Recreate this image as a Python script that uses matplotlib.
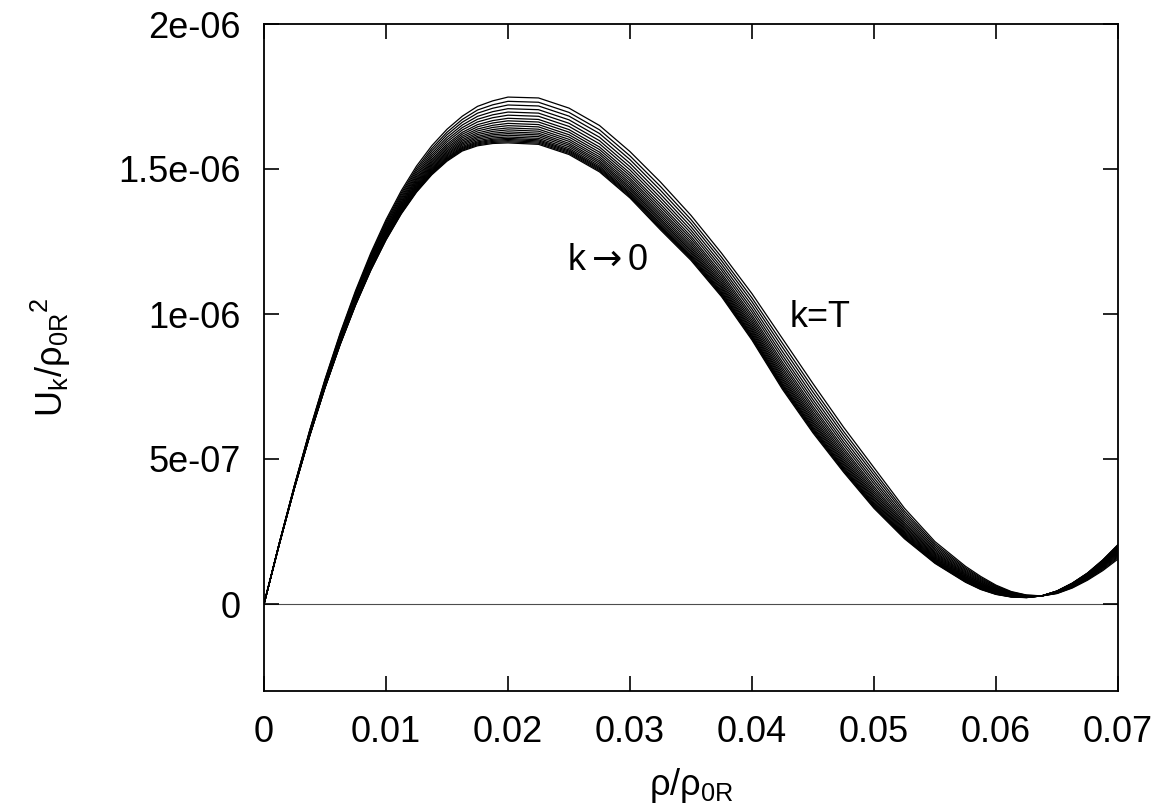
import numpy as np
import matplotlib
matplotlib.use("Agg")
import matplotlib.pyplot as plt

plt.rcParams["font.family"] = ["Liberation Sans", "DejaVu Sans"]
plt.rcParams["mathtext.fontset"] = "custom"
plt.rcParams["mathtext.rm"] = "Liberation Sans"
plt.rcParams["mathtext.it"] = "Liberation Sans"
plt.rcParams["mathtext.sf"] = "DejaVu Sans"

# rho/rho_0R grid, in units of 1e-3 (denser where the curves bend)
rho = np.array([0, 1.25, 2.5, 3.75, 5, 6.25, 7.5, 8.75, 10, 11.25, 12.5,
                13.75, 15, 16.25, 17.5, 18.75, 20,
                22.5, 25, 27.5, 30, 32.5, 35, 37.5, 40, 42.5, 45, 47.5, 50,
                52.5, 55, 57.5,
                58.75, 60, 61.25, 62.5, 63.75, 65, 66.25, 67.5, 68.75, 70]) * 1e-3

# U_k / rho_0R^2 at k = T (highest barrier), units of 1e-6
u_kT = np.array([0, 0.21, 0.41, 0.60, 0.775, 0.935, 1.08, 1.21, 1.325, 1.425,
                 1.51, 1.58, 1.637, 1.682, 1.716, 1.735, 1.748,
                 1.745, 1.71, 1.65, 1.56, 1.455, 1.34, 1.21, 1.07, 0.915,
                 0.76, 0.61, 0.47, 0.33, 0.215, 0.13,
                 0.095, 0.065, 0.043, 0.031, 0.028, 0.036, 0.055, 0.082,
                 0.115, 0.155]) * 1e-6

# U_k / rho_0R^2 for k -> 0 (lowest barrier), units of 1e-6
u_k0 = np.array([0, 0.205, 0.40, 0.58, 0.745, 0.895, 1.03, 1.15, 1.255, 1.345,
                 1.42, 1.48, 1.527, 1.562, 1.58, 1.588, 1.59,
                 1.585, 1.55, 1.49, 1.40, 1.29, 1.185, 1.06, 0.91, 0.74,
                 0.59, 0.455, 0.33, 0.225, 0.14, 0.075,
                 0.05, 0.033, 0.024, 0.022, 0.028, 0.045, 0.072, 0.107,
                 0.152, 0.205]) * 1e-6

# barrier height of every curve in the flow, k = T first, units of 1e-6
peak_heights = np.array([1.749, 1.734, 1.721, 1.708, 1.696, 1.685, 1.674,
                         1.665, 1.656, 1.648, 1.640, 1.633, 1.626, 1.620,
                         1.614, 1.608, 1.603, 1.599, 1.595, 1.591, 1.587]) * 1e-6

xticks = [0, 0.01, 0.02, 0.03, 0.04, 0.05, 0.06, 0.07]
xtick_labels = ["0", "0.01", "0.02", "0.03", "0.04", "0.05", "0.06", "0.07"]
yticks = [0, 5e-7, 1e-6, 1.5e-6, 2e-6]
ytick_labels = ["0", "5e-07", "1e-06", "1.5e-06", "2e-06"]

FS = 26

fig = plt.figure(figsize=(11.59, 8.10), dpi=100)
ax = fig.add_axes([264 / 1159, 1 - 691 / 810, 854 / 1159, 667 / 810])

ax.axhline(0, color="0.3", lw=0.8, zorder=1)

span = peak_heights[0] - peak_heights[-1]
for p in peak_heights:
    w = (p - peak_heights[-1]) / span
    ax.plot(rho, u_k0 + w * (u_kT - u_k0), color="black", lw=0.9, zorder=2)

ax.set_xlim(0, 0.07)
ax.set_ylim(-3e-7, 2e-6)
ax.set_xticks(xticks, xtick_labels)
ax.set_yticks(yticks, ytick_labels)
ax.tick_params(direction="in", length=11, width=1.2, top=True, right=True,
               labelsize=FS)
ax.tick_params(axis="x", pad=17)
ax.tick_params(axis="y", pad=17)
for s in ax.spines.values():
    s.set_linewidth(1.3)

ax.set_xlabel(r"$\mathregular{ρ/ρ_{0R}}$", fontsize=FS, va="center")
ax.xaxis.set_label_coords(0.5, -0.141)
ax.set_ylabel(r"$\mathregular{U_k/ρ_{0R}{}^{2}}$", fontsize=FS,
              va="center", ha="center")
ax.yaxis.set_label_coords(-0.25, 0.5)

ax.text(0.0248, 1.152e-6, r"k$\mathsf{\rightarrow}$0", fontsize=FS,
        va="baseline")
ax.text(0.0431, 0.955e-6, "k=T", fontsize=FS, va="baseline")

fig.savefig("out.png", dpi=100)
